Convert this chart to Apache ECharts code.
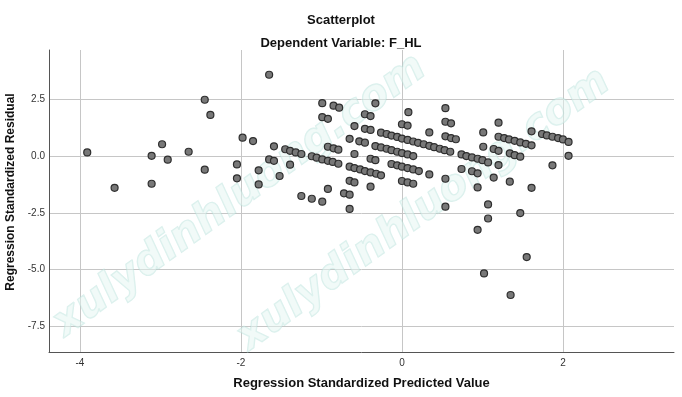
<!DOCTYPE html>
<html>
<head>
<meta charset="utf-8">
<title>Scatterplot</title>
<script src="https://cdn.jsdelivr.net/npm/echarts@6/dist/echarts.min.js"></script>
<style>
  html, body { margin: 0; padding: 0; background: #fff; }
  #chart { width: 682px; height: 397px; }
</style>
</head>
<body>
<div id="chart"></div>
<script>
// values, paired by index
const predicted = [
  -3.91, -3.57, -3.11, -3.11, -2.98, -2.91, -2.65, -2.45, -2.38, -2.45,
  -2.05, -2.05, -1.98, -1.85, -1.65, -1.59, -1.65, -1.59, -1.78, -1.78,
  -1.52, -1.39, -1.45, -1.39, -1.32, -1.25, -1.25, -1.12, -0.99, -0.92,
  -1.12, -1.06, -0.99, -0.92, -0.86, -0.79, -0.99, -0.85, -0.78, -0.99,
  -0.92, -0.92, -0.85, -0.79, -0.72, -0.65, -0.65, -0.59, -0.65, -0.59,
  -0.65, -0.59, -0.46, -0.39, -0.46, -0.39, -0.53, -0.46, -0.39, -0.33,
  -0.39, -0.33,
  -0.65, -0.59, -0.52, -0.46, -0.39, -0.32, -0.26,
  -0.33, -0.26, -0.19, -0.13, -0.06, 0.00, 0.07, 0.14,
  -0.26, -0.19, -0.13, -0.06, 0.00, 0.07, 0.14, 0.20, 0.27, 0.34, 0.40, 0.47, 0.53, 0.60,
  -0.13, -0.06, 0.00, 0.07, 0.14, 0.21,
  0.00, 0.07, 0.14, 0.00, 0.07, 0.08, 0.54, 0.54, 0.61, 0.34,
  0.54, 0.61, 0.67, 0.34, 0.54, 0.54,
  0.74, 0.80, 0.87, 0.94, 1.00, 1.07,
  0.74, 0.87, 0.94, 0.94, 1.01, 1.01, 1.14, 1.07, 1.07, 0.94, 1.20,
  1.20, 1.27, 1.33, 1.40, 1.47, 1.54, 1.61,
  1.14, 1.20, 1.34, 1.40, 1.47, 1.20, 1.34, 1.47, 1.61, 1.61,
  1.74, 1.80, 1.87, 1.94, 2.00, 2.07,
  2.07, 1.87, 1.55, 1.02, 1.35
];
const residual = [
  0.16, -1.40, 0.01, -1.22, 0.52, -0.16, 0.19, 2.48, 1.81, -0.60,
  -0.37, -0.98, 0.81, 0.66, 3.58, 0.43, -0.15, -0.21, -0.63, -1.25,
  -0.88, -0.38, 0.30, 0.23, 0.16, 0.09, -1.76, -1.88, -2.01, -1.45,
  -0.01, -0.07, -0.15, -0.21, -0.26, -0.34, 2.33, 2.22, 2.13, 1.71,
  1.64, 0.41, 0.34, 0.28, -1.64, -1.70, -2.33, 1.32, 0.76, 0.09,
  -1.09, -1.16, 1.84, 1.76, 1.20, 1.15, 0.65, 0.59, -0.12, -0.18,
  -1.35, 2.32,
  -0.47, -0.53, -0.59, -0.66, -0.72, -0.78, -0.85,
  0.44, 0.38, 0.32, 0.26, 0.19, 0.13, 0.07, 0.00,
  1.03, 0.97, 0.90, 0.84, 0.77, 0.71, 0.64, 0.58, 0.52, 0.45, 0.39, 0.32, 0.26, 0.19,
  -0.35, -0.41, -0.47, -0.53, -0.59, -0.66,
  -1.10, -1.16, -1.22, 1.40, 1.34, 1.93, 2.11, 1.51, 1.44, 1.04,
  0.87, 0.79, 0.74, -0.81, -1.00, -2.23,
  0.07, 0.00, -0.06, -0.12, -0.18, -0.28,
  -0.57, -0.67, -0.76, -1.38, 1.04, 0.41, -0.95, -2.13, -2.75, -3.25, 1.47,
  0.85, 0.79, 0.73, 0.67, 0.60, 0.54, 0.47,
  0.31, 0.23, 0.12, 0.04, -0.03, -0.40, -1.13, -2.51, 1.09, -1.40,
  0.97, 0.91, 0.85, 0.79, 0.73, 0.62,
  0.01, -0.41, -4.45, -5.17, -6.12
];

const xRange = [-4.385, 3.38];
const yRange = [-8.63, 4.67];
const xStep = 2;
const yStep = 2.5;

const FONT = '"Liberation Sans", Arial, sans-serif';
const gridColor = '#c6c6c6';
const axisColor = '#555';

const chart = echarts.init(document.getElementById('chart'), null, { renderer: 'canvas' });

const points = predicted.map((x, i) => [x, residual[i]]);

const watermark = (x, y) => ({
  type: 'text', x, y, rotation: 0.63, z: 1, silent: true,
  style: {
    text: 'xulydinhluong.com', align: 'center', verticalAlign: 'middle',
    font: 'italic bold 42px "DejaVu Sans", sans-serif',
    fill: 'rgba(228,245,242,0.5)', stroke: 'rgba(175,222,214,0.45)', lineWidth: 1.4
  }
});

chart.setOption({
  animation: false,
  backgroundColor: '#fff',
  title: [
    {
      text: 'Scatterplot', left: 'center', top: 9,
      textStyle: { fontFamily: FONT, fontSize: 13, fontWeight: 'bold', color: '#111' }
    },
    {
      text: 'Dependent Variable: F_HL', left: 'center', top: 32,
      textStyle: { fontFamily: FONT, fontSize: 13, fontWeight: 'bold', color: '#111' }
    }
  ],
  grid: { left: 49, right: 8, top: 50, bottom: 45, containLabel: false, outerBoundsMode: 'none' },
  xAxis: {
    type: 'value',
    min: xRange[0], max: xRange[1],
    minInterval: xStep, maxInterval: xStep,
    name: 'Regression Standardized Predicted Value',
    nameLocation: 'middle', nameGap: 25,
    nameTextStyle: { fontFamily: FONT, fontSize: 13, fontWeight: 'bold', color: '#111' },
    axisLine: { onZero: false, lineStyle: { color: axisColor, width: 1 } },
    axisTick: { show: false },
    axisLabel: {
      showMinLabel: false, showMaxLabel: false, margin: 6,
      fontFamily: FONT, fontSize: 10, color: '#333',
      formatter: v => String(Math.round(v))
    },
    splitLine: { show: true, showMinLine: false, showMaxLine: false, lineStyle: { color: gridColor, width: 1 } }
  },
  yAxis: {
    type: 'value',
    min: yRange[0], max: yRange[1],
    minInterval: yStep, maxInterval: yStep,
    name: 'Regression Standardized Residual',
    nameLocation: 'middle', nameGap: 26,
    nameTextStyle: { fontFamily: FONT, fontSize: 12, fontWeight: 'bold', color: '#111', padding: [0, 0, 0, 18] },
    axisLine: { show: true, onZero: false, lineStyle: { color: axisColor, width: 1 } },
    axisTick: { show: false },
    axisLabel: {
      showMinLabel: false, showMaxLabel: false, margin: 4,
      fontFamily: FONT, fontSize: 10, color: '#333',
      formatter: v => v.toFixed(1)
    },
    splitLine: { show: true, showMinLine: false, showMaxLine: false, lineStyle: { color: gridColor, width: 1 } }
  },
  graphic: [watermark(240, 196), watermark(424, 210)],
  series: [{
    type: 'scatter',
    data: points,
    symbol: 'circle',
    symbolSize: 7,
    z: 3,
    itemStyle: { color: '#787878', borderColor: '#2e2e2e', borderWidth: 1.2, opacity: 1 }
  }]
});
</script>
</body>
</html>
